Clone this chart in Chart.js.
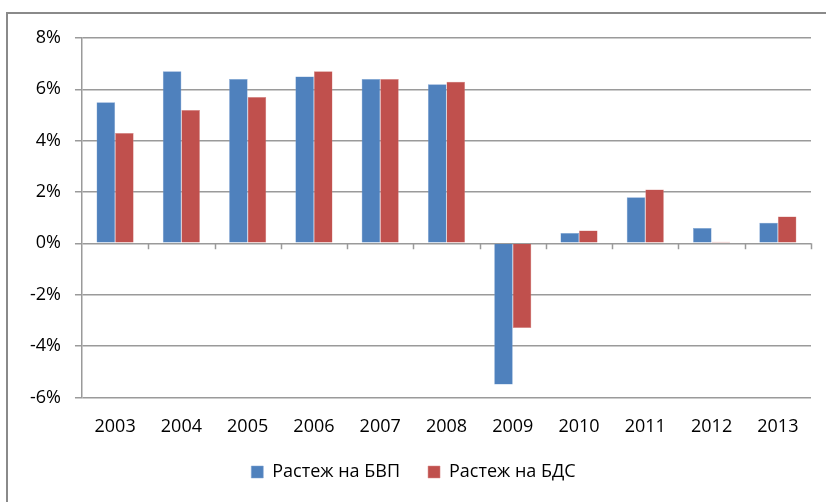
<!DOCTYPE html>
<html>
<head>
<meta charset="utf-8">
<script src="https://cdn.jsdelivr.net/npm/chart.js@4/dist/chart.umd.min.js"></script>
<style>
    html, body { margin: 0; padding: 0; background: #fff; overflow: hidden; width: 826px; height: 502px; }
    #frame { position: absolute; left: 6px; top: 12px; width: 900px; height: 600px; border: 2px solid #8a8a8a; box-sizing: border-box; }
    #wrap { position: absolute; left: 0; top: 0; }
</style>
</head>
<body>
<div id="frame"></div>
<div id="wrap"><canvas id="growth-chart" width="854" height="520"></canvas></div>
<script>
// Chart data
var years = ['2003', '2004', '2005', '2006', '2007', '2008', '2009', '2010', '2011', '2012', '2013'];
var gdpGrowth = [5.5, 6.7, 6.4, 6.5, 6.4, 6.2, -5.5, 0.4, 1.8, 0.6, 0.8];
var gvaGrowth = [4.3, 5.2, 5.7, 6.7, 6.4, 6.3, -3.3, 0.5, 2.1, 0.06, 1.05];
var seriesNames = ['Растеж на БВП', 'Растеж на БДС'];

var gridColor = '#9a9a9a';
var fontFamily = 'Open Sans, sans-serif';

// small tick marks on the zero line between categories
var zeroTicks = {
    id: 'zeroTicks',
    afterDatasetsDraw: function(chart) {
        var x = chart.scales.x, y = chart.scales.y, ctx = chart.ctx;
        var y0 = y.getPixelForValue(0);
        var step = x.width / years.length;
        ctx.save();
        ctx.strokeStyle = gridColor;
        ctx.lineWidth = 1.5;
        ctx.beginPath();
        for (var i = 1; i <= years.length; i++) {
            var px = Math.round(x.left + i * step) + 0.5;
            ctx.moveTo(px, y0);
            ctx.lineTo(px, y0 + 6);
        }
        ctx.stroke();
        ctx.restore();
    }
};

// pull the legend a bit closer to the axis labels
var legendShift = {
    id: 'legendShift',
    afterLayout: function(chart) {
        if (chart.legend) {
            chart.legend.top -= 22;
            chart.legend.bottom -= 22;
        }
    }
};

new Chart(document.getElementById('growth-chart'), {
    type: 'bar',
    data: {
        labels: years,
        datasets: [{
            label: seriesNames[0],
            data: gdpGrowth,
            backgroundColor: '#4F81BD',
            borderColor: '#7ea3d3',
            borderWidth: 0.5
        }, {
            label: seriesNames[1],
            data: gvaGrowth,
            backgroundColor: '#C0504D',
            borderColor: '#d88a88',
            borderWidth: 0.5
        }]
    },
    options: {
        responsive: false,
        animation: false,
        categoryPercentage: 0.56,
        barPercentage: 1.0,
        layout: { padding: { left: 16, right: 43, top: 38, bottom: 7 } },
        plugins: {
            legend: {
                position: 'bottom',
                labels: {
                    color: '#000',
                    font: { family: fontFamily, size: 18 },
                    boxWidth: 12,
                    boxHeight: 12,
                    padding: 28
                }
            },
            tooltip: { enabled: false }
        },
        scales: {
            x: {
                grid: { display: false, drawTicks: false },
                border: { display: false },
                ticks: { color: '#000', font: { family: fontFamily, size: 18 }, padding: 19 }
            },
            y: {
                min: -6,
                max: 8,
                grid: { color: gridColor, lineWidth: 1.5, tickLength: 7 },
                border: { color: gridColor, width: 1.5 },
                ticks: {
                    stepSize: 2,
                    color: '#000',
                    font: { family: fontFamily, size: 18 },
                    padding: 14,
                    callback: function(v) { return v + '%'; }
                }
            }
        }
    },
    plugins: [zeroTicks, legendShift]
});
</script>
</body>
</html>
